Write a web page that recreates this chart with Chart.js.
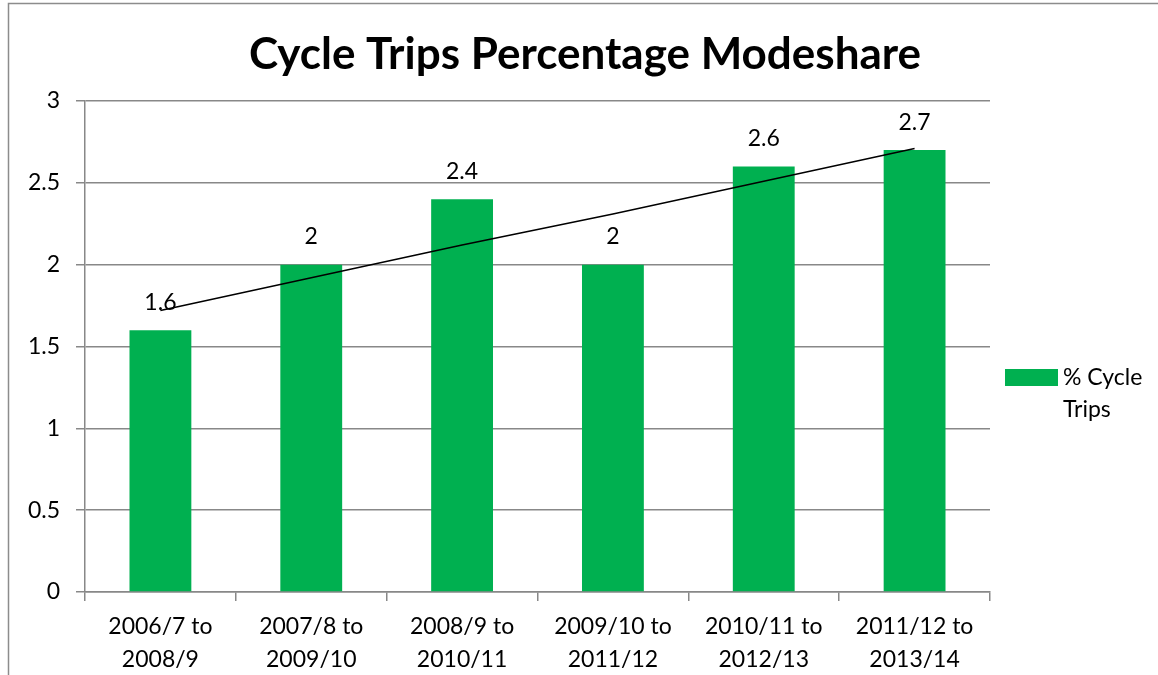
<!DOCTYPE html>
<html>
<head>
<meta charset="utf-8">
<script src="https://cdn.jsdelivr.net/npm/chart.js@4.4.1/dist/chart.umd.min.js"></script>
<style>
  body { margin: 0; background: #fff; }
  #wrap { width: 1158px; height: 675px; position: relative; }
</style>
</head>
<body>
<div id="wrap"><canvas id="chart" width="1158" height="675"></canvas></div>
<script>
const categories = [
    ['2006/7 to', '2008/9'],
    ['2007/8 to', '2009/10'],
    ['2008/9 to', '2010/11'],
    ['2009/10 to', '2011/12'],
    ['2010/11 to', '2012/13'],
    ['2011/12 to', '2013/14']
];
const cycleTrips = [1.6, 2, 2.4, 2, 2.6, 2.7];
// linear trend
const trendValues = [1.72, 1.92, 2.12, 2.31, 2.51, 2.71];
const yTicks = [0, 0.5, 1, 1.5, 2, 2.5, 3];

const FONT = 'Lato, "Open Sans", sans-serif';
const GREEN = '#00B050';
const GRID = '#888888';

const frameAndLegend = {
    id: 'frameAndLegend',
    afterDraw(chart) {
        const ctx = chart.ctx;
        ctx.save();
        // outer chart frame
        ctx.strokeStyle = '#8c8c8c';
        ctx.lineWidth = 1.5;
        ctx.beginPath();
        ctx.moveTo(8.5, 680);
        ctx.lineTo(8.5, 3.5);
        ctx.lineTo(1160, 3.5);
        ctx.stroke();

        // title, centred on the whole chart
        ctx.fillStyle = '#000';
        ctx.font = 'bold 44px ' + FONT;
        ctx.textAlign = 'center';
        ctx.textBaseline = 'middle';
        ctx.fillText('Cycle Trips Percentage Modeshare', 585, 55);

        // data labels over the bars
        const meta = chart.getDatasetMeta(1);
        ctx.font = '23px ' + FONT;
        meta.data.forEach((bar, i) => {
            ctx.fillText(String(cycleTrips[i]), bar.x, bar.y - 28);
        });

        // legend
        const lx = chart.chartArea.right + 15;
        ctx.fillStyle = GREEN;
        ctx.fillRect(lx, 369, 53, 17);
        ctx.fillStyle = '#000';
        ctx.textAlign = 'left';
        ctx.fillText('% Cycle', lx + 58, 378);
        ctx.fillText('Trips', lx + 58, 410);
        ctx.restore();
    }
};

new Chart(document.getElementById('chart'), {
    data: {
        labels: categories,
        datasets: [
            {
                type: 'line',
                label: 'Linear (% Cycle Trips)',
                data: trendValues,
                borderColor: '#000',
                borderWidth: 1.5,
                pointRadius: 0,
                tension: 0,
                order: 0
            },
            {
                type: 'bar',
                label: '% Cycle Trips',
                data: cycleTrips,
                backgroundColor: GREEN,
                categoryPercentage: 1,
                barPercentage: 0.41,
                order: 1
            }
        ]
    },
    options: {
        responsive: false,
        animation: false,
        layout: { padding: { left: 0, right: 168, top: 101, bottom: 0 } },
        plugins: {
            legend: { display: false },
            tooltip: { enabled: false },
            title: { display: false }
        },
        scales: {
            x: {
                offset: true,
                grid: {
                    offset: true,
                    drawOnChartArea: false,
                    drawTicks: true,
                    tickLength: 9,
                    color: GRID,
                    lineWidth: 1.5
                },
                border: { color: GRID, width: 1.5 },
                ticks: {
                    color: '#000',
                    font: { family: FONT, size: 23, lineHeight: 1.435 },
                    padding: 9,
                    maxRotation: 0,
                    autoSkip: false
                },
                afterFit(scale) { scale.height = 83; }
            },
            y: {
                min: 0,
                max: 3,
                afterBuildTicks(scale) { scale.ticks = yTicks.map(v => ({ value: v })); },
                grid: {
                    color: GRID,
                    lineWidth: 1.5,
                    tickLength: 9
                },
                border: { color: GRID, width: 1.5 },
                ticks: {
                    color: '#000',
                    font: { family: FONT, size: 23 },
                    padding: 16,
                    callback: v => String(v)
                },
                afterFit(scale) { scale.width = 85; }
            }
        }
    },
    plugins: [frameAndLegend]
});
</script>
</body>
</html>
